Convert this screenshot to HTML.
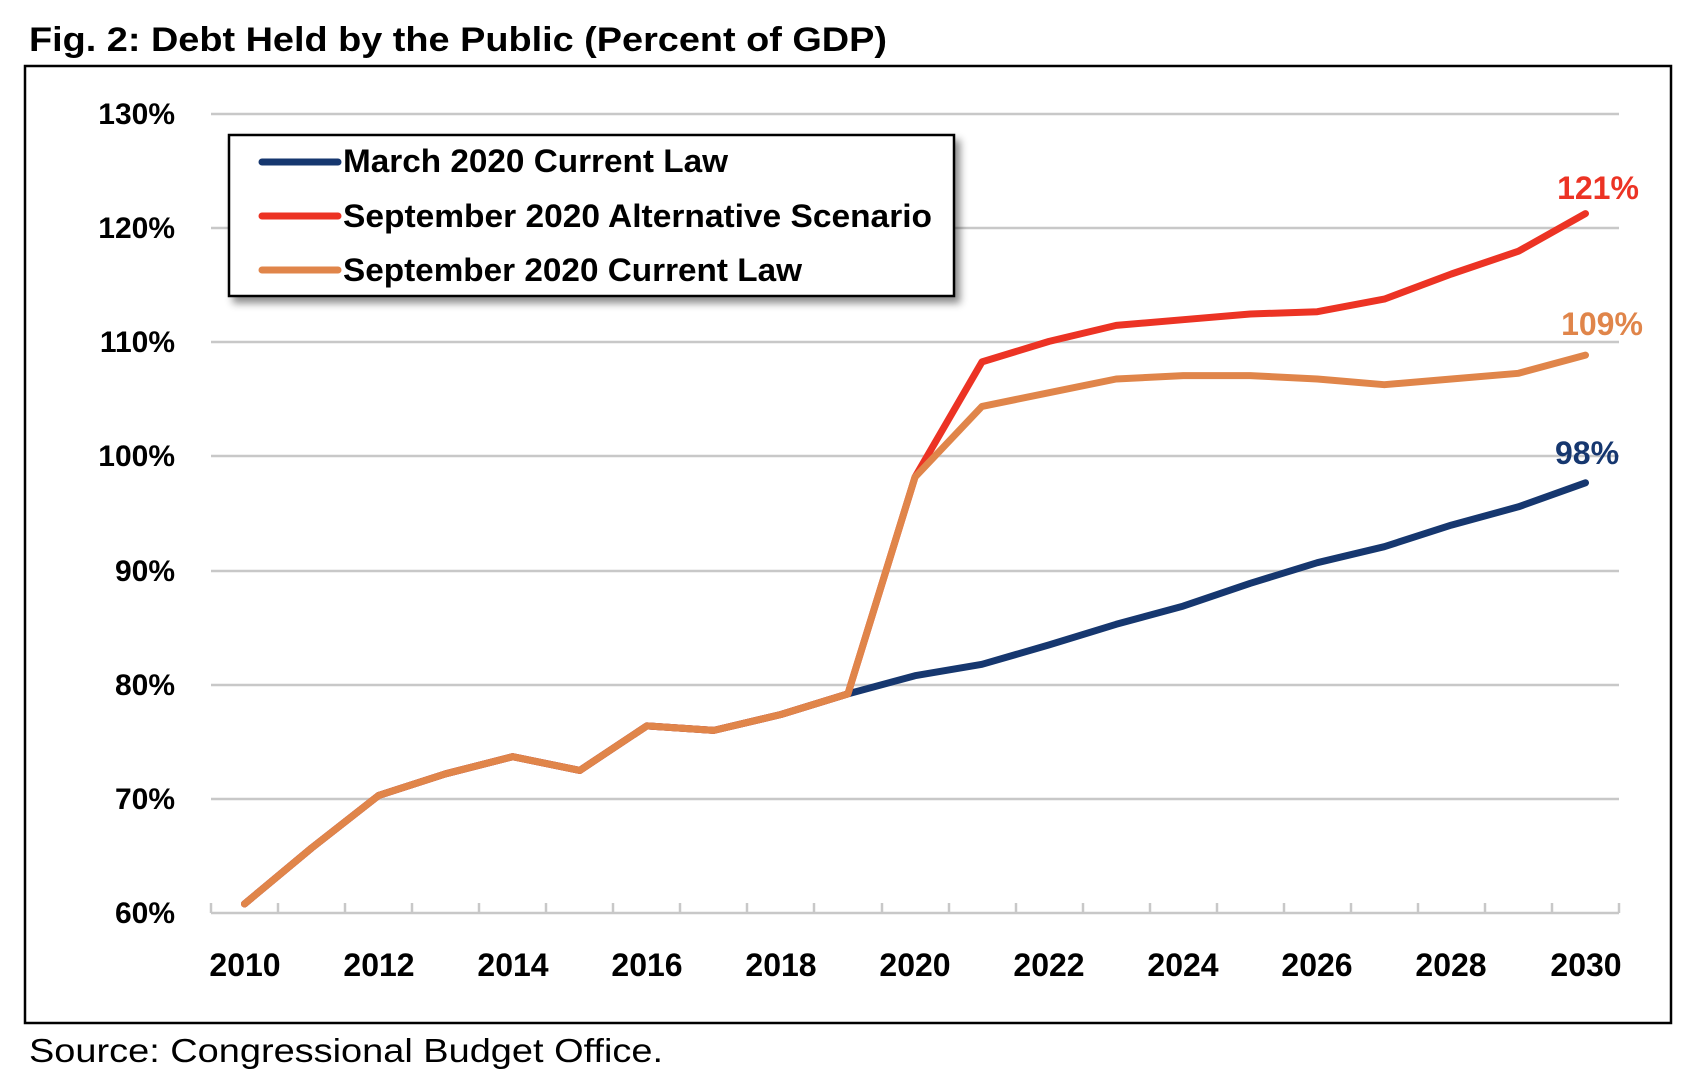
<!DOCTYPE html>
<html><head><meta charset="utf-8"><style>html,body{margin:0;padding:0;background:#fff}svg{display:block}</style></head>
<body>
<svg width="1690" height="1074" viewBox="0 0 1690 1074" xmlns="http://www.w3.org/2000/svg">
<defs><filter id="sh" x="-5%" y="-10%" width="115%" height="130%"><feDropShadow dx="5" dy="6" stdDeviation="4" flood-color="#000" flood-opacity="0.45"/></filter></defs>
<text x="29" y="51" font-family="Liberation Sans, sans-serif" font-weight="bold" font-size="34" textLength="858" lengthAdjust="spacingAndGlyphs">Fig. 2: Debt Held by the Public (Percent of GDP)</text>
<rect x="25" y="66" width="1646" height="957" fill="#fff" stroke="#000" stroke-width="2.5"/>
<g stroke="#c8c8c8" stroke-width="2.5">
<line x1="211" y1="114" x2="1619" y2="114"/>
<line x1="211" y1="228" x2="1619" y2="228"/>
<line x1="211" y1="342" x2="1619" y2="342"/>
<line x1="211" y1="456" x2="1619" y2="456"/>
<line x1="211" y1="571" x2="1619" y2="571"/>
<line x1="211" y1="685" x2="1619" y2="685"/>
<line x1="211" y1="799" x2="1619" y2="799"/>
<line x1="211" y1="913" x2="1619" y2="913"/>
<line x1="211" y1="903" x2="211" y2="913"/><line x1="278" y1="903" x2="278" y2="913"/><line x1="345" y1="903" x2="345" y2="913"/><line x1="412" y1="903" x2="412" y2="913"/><line x1="479" y1="903" x2="479" y2="913"/><line x1="546" y1="903" x2="546" y2="913"/><line x1="613" y1="903" x2="613" y2="913"/><line x1="680" y1="903" x2="680" y2="913"/><line x1="747" y1="903" x2="747" y2="913"/><line x1="814" y1="903" x2="814" y2="913"/><line x1="882" y1="903" x2="882" y2="913"/><line x1="949" y1="903" x2="949" y2="913"/><line x1="1016" y1="903" x2="1016" y2="913"/><line x1="1083" y1="903" x2="1083" y2="913"/><line x1="1150" y1="903" x2="1150" y2="913"/><line x1="1217" y1="903" x2="1217" y2="913"/><line x1="1284" y1="903" x2="1284" y2="913"/><line x1="1351" y1="903" x2="1351" y2="913"/><line x1="1418" y1="903" x2="1418" y2="913"/><line x1="1485" y1="903" x2="1485" y2="913"/><line x1="1552" y1="903" x2="1552" y2="913"/><line x1="1619" y1="903" x2="1619" y2="913"/>
</g>
<g font-family="Liberation Sans, sans-serif" font-weight="bold" font-size="30" text-anchor="end">
<text x="175" y="124">130%</text><text x="175" y="238">120%</text><text x="175" y="352">110%</text><text x="175" y="466">100%</text><text x="175" y="581">90%</text><text x="175" y="695">80%</text><text x="175" y="809">70%</text><text x="175" y="923">60%</text>
</g>
<g font-family="Liberation Sans, sans-serif" font-weight="bold" font-size="32" text-anchor="middle">
<text x="245" y="976">2010</text><text x="379" y="976">2012</text><text x="513" y="976">2014</text><text x="647" y="976">2016</text><text x="781" y="976">2018</text><text x="915" y="976">2020</text><text x="1049" y="976">2022</text><text x="1183" y="976">2024</text><text x="1317" y="976">2026</text><text x="1451" y="976">2028</text><text x="1586" y="976">2030</text>
</g>
<g fill="none" stroke-width="7" stroke-linejoin="round" stroke-linecap="round">
<polyline id="blue" stroke="#16376f" points=""/>
<polyline id="red" stroke="#ec3324" points=""/>
<polyline id="orange" stroke="#e0854a" points=""/>
</g>
<g font-family="Liberation Sans, sans-serif" font-weight="bold" font-size="32" text-anchor="middle">
<text x="1598" y="199" fill="#ec3324">121%</text>
<text x="1602" y="335" fill="#e0854a">109%</text>
<text x="1587" y="464" fill="#16376f">98%</text>
</g>
<rect x="229" y="135" width="725" height="161" fill="#fff" stroke="#000" stroke-width="2.5" filter="url(#sh)"/>
<g stroke-width="7" stroke-linecap="round">
<line x1="262" y1="162" x2="338" y2="162" stroke="#16376f"/>
<line x1="262" y1="216" x2="338" y2="216" stroke="#ec3324"/>
<line x1="262" y1="270" x2="338" y2="270" stroke="#e0854a"/>
</g>
<g font-family="Liberation Sans, sans-serif" font-weight="bold" font-size="32">
<text x="343" y="172" textLength="385" lengthAdjust="spacingAndGlyphs">March 2020 Current Law</text>
<text x="343" y="227" textLength="589" lengthAdjust="spacingAndGlyphs">September 2020 Alternative Scenario</text>
<text x="343" y="281" textLength="459" lengthAdjust="spacingAndGlyphs">September 2020 Current Law</text>
</g>
<text x="29" y="1062" font-family="Liberation Sans, sans-serif" font-size="33" textLength="634" lengthAdjust="spacingAndGlyphs">Source: Congressional Budget Office.</text>
<script>
var X=function(i){return 244.5+i*67.05},Y=function(v){return 913-(v-60)*11.41};
var base=[60.8,65.7,70.3,72.2,73.7,72.5,76.4,76.0,77.4,79.2];
var b=base.concat([80.8,81.8,83.5,85.3,86.9,88.9,90.7,92.1,94.0,95.6,97.7]);
var o=base.concat([98.2,104.4,105.6,106.8,107.1,107.1,106.8,106.3,106.8,107.3,108.9]);
var r=base.concat([98.2,108.3,110.1,111.5,112.0,112.5,112.7,113.8,116.0,118.0,121.3]);
function pts(a){return a.map(function(v,i){return X(i).toFixed(1)+","+Y(v).toFixed(1)}).join(" ")}
document.getElementById("blue").setAttribute("points",pts(b));
document.getElementById("red").setAttribute("points",pts(r));
document.getElementById("orange").setAttribute("points",pts(o));
</script>
</svg>
</body></html>
